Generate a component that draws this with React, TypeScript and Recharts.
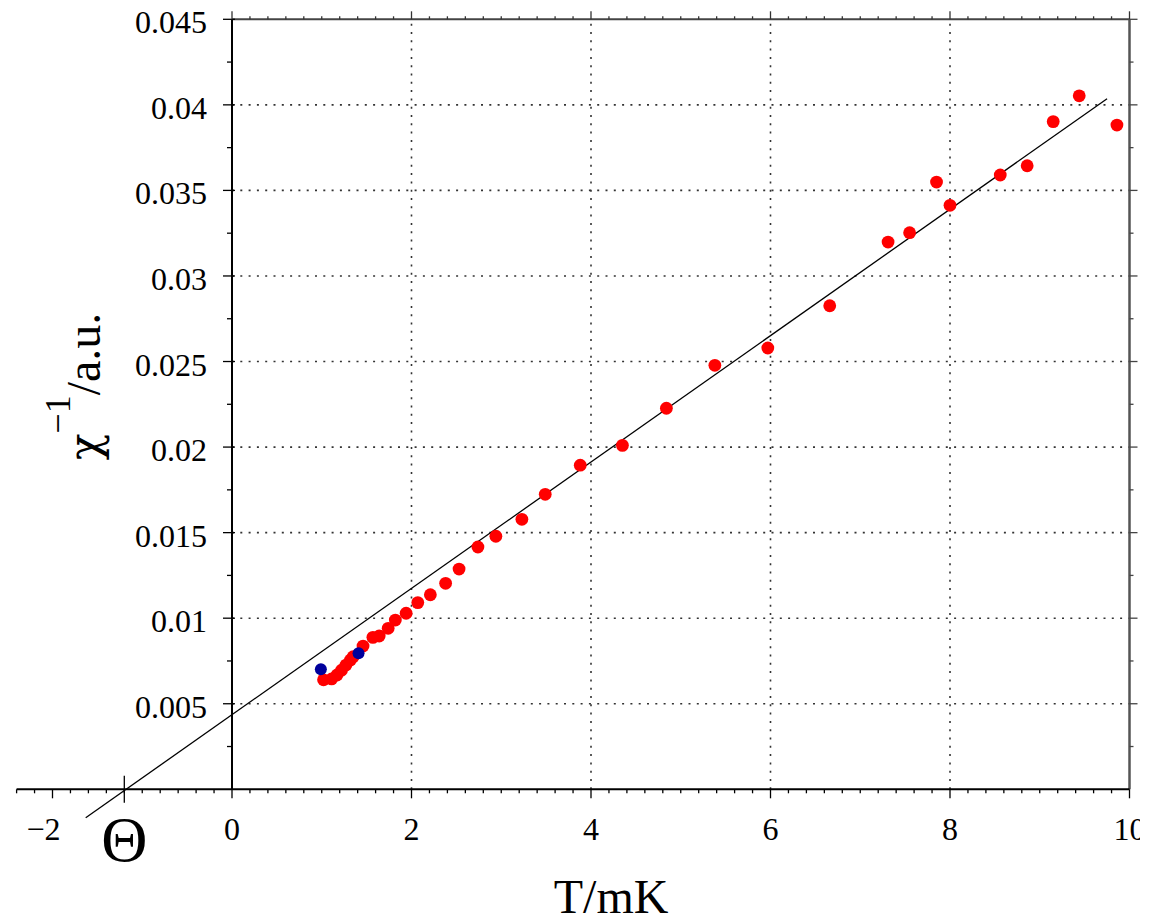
import React from "react";
import {
  ComposedChart,
  Scatter,
  XAxis,
  YAxis,
  ReferenceLine,
  ReferenceDot,
  Label,
} from "recharts";

// measured points: T in mK, inverse susceptibility in a.u.
const redT = [
  1.02, 1.11, 1.17, 1.22, 1.27, 1.32, 1.35, 1.46, 1.57, 1.64, 1.74, 1.82, 1.94,
  2.07, 2.21, 2.38, 2.53, 2.74, 2.94, 3.23, 3.49, 3.88, 4.35, 4.84, 5.38, 5.97,
  6.66, 7.31, 7.55, 7.85, 8.0, 8.56, 8.86, 9.15, 9.44, 9.86,
];
const redChi = [
  0.0064, 0.00645, 0.00668, 0.00696, 0.00726, 0.00756, 0.00775, 0.00837,
  0.00888, 0.00896, 0.00941, 0.00989, 0.01029, 0.01091, 0.01137, 0.01204,
  0.01287, 0.01416, 0.01479, 0.01578, 0.01724, 0.01894, 0.0201, 0.02227,
  0.02478, 0.02579, 0.02826, 0.03198, 0.03253, 0.03549, 0.03413, 0.0359,
  0.03644, 0.03902, 0.04053, 0.03882,
];
const blueT = [0.99, 1.41];
const blueChi = [0.00701, 0.00795];

// Curie-Weiss fit line end points and Θ
const fitT = [-1.63, 9.75];
const fitChi = [-0.00166, 0.04036];
const theta = -1.2;

const tMajor = [-2, 0, 2, 4, 6, 8, 10];
const tLabels = ["\u22122", "0", "2", "4", "6", "8", "10"];
const chiMajor = [0.005, 0.01, 0.015, 0.02, 0.025, 0.03, 0.035, 0.04, 0.045];
const chiLabels = ["0.005", "0.01", "0.015", "0.02", "0.025", "0.03", "0.035", "0.04", "0.045"];

const tMinor = Array.from({ length: 63 }, (_, i) => +(-2.4 + i * 0.2).toFixed(1));
const tTop = tMinor.filter((t) => t >= 0);
const chiMinor = Array.from({ length: 18 }, (_, i) => +((i + 1) * 0.0025).toFixed(4));

const redData = redT.map((t, i) => ({ t, chi: redChi[i] }));
const blueData = blueT.map((t, i) => ({ t, chi: blueChi[i] }));

const font = '"Liberation Serif", "Times New Roman", serif';
const grid = { stroke: "#333", strokeWidth: 1.6, strokeDasharray: "2 6.3" };

const isMajorT = (v: number) => Math.abs(v / 2 - Math.round(v / 2)) < 1e-6;
const isMajorChi = (v: number) => Math.abs(v / 0.005 - Math.round(v / 0.005)) < 1e-6;

function BottomTick(props: any) {
  const { x, y, payload } = props;
  const v = payload.value;
  const major = isMajorT(v);
  const idx = tMajor.findIndex((m) => Math.abs(m - v) < 1e-6);
  return (
    <g>
      <line x1={x} x2={x} y1={y} y2={y + (major ? 9 : 4)} stroke="#000" strokeWidth={1.3} />
      {major && (
        <text
          x={v < 0 ? x + 8 : x}
          y={y + 51}
          textAnchor={v < 0 ? "end" : "middle"}
          fontFamily={font}
          fontSize={32}
          fill="#000"
        >
          {tLabels[idx]}
        </text>
      )}
    </g>
  );
}

const dot = (color: string, r: number) => (p: any) =>
  <circle cx={p.cx} cy={p.cy} r={r} fill={color} />;

export default function App() {
  return (
    <ComposedChart
      width={1132}
      height={913}
      margin={{ top: 11.3, right: 10.5, left: 8.6, bottom: 7.7 }}
    >
      <XAxis
        type="number"
        dataKey="t"
        domain={[-2.4, 10]}
        ticks={tMinor}
        interval={0}
        tickSize={0}
        tickMargin={0}
        tickLine={false}
        tick={<BottomTick />}
        axisLine={{ stroke: "#000", strokeWidth: 2 }}
        height={124}
      >
        <Label
          value="T/mK"
          position="insideBottom"
          offset={0}
          dx={38}
          style={{ fontFamily: font, fontSize: 48, fill: "#000" }}
        />
      </XAxis>
      <YAxis type="number" dataKey="chi" domain={[0, 0.045]} hide />

      {[2, 4, 6, 8].map((t) => (
        <ReferenceLine key={"gv" + t} segment={[{ x: t, y: 0 }, { x: t, y: 0.045 }]} {...grid} />
      ))}
      {chiMajor.slice(0, -1).map((c) => (
        <ReferenceLine key={"gh" + c} segment={[{ x: 0, y: c }, { x: 10, y: c }]} {...grid} />
      ))}

      <ReferenceLine segment={[{ x: 0, y: 0.045 }, { x: 10, y: 0.045 }]} stroke="#444" strokeWidth={2} />
      <ReferenceLine segment={[{ x: 10, y: 0 }, { x: 10, y: 0.045 }]} stroke="#555" strokeWidth={2.5} />
      <ReferenceLine segment={[{ x: 0, y: 0 }, { x: 0, y: 0.045 }]} stroke="#000" strokeWidth={2} />

      {chiMinor.map((c) => (
        <ReferenceDot
          key={"yl" + c}
          x={0}
          y={c}
          shape={(p: any) => {
            const major = isMajorChi(c);
            const idx = chiMajor.findIndex((m) => Math.abs(m - c) < 1e-7);
            return (
              <g>
                <line x1={p.cx - (major ? 9 : 5)} x2={p.cx + (major ? 3 : 0)} y1={p.cy} y2={p.cy} stroke="#000" strokeWidth={1.3} />
                {major && (
                  <text x={p.cx - 25} y={p.cy + 14} textAnchor="end" fontFamily={font} fontSize={32} fill="#000">
                    {chiLabels[idx]}
                  </text>
                )}
              </g>
            );
          }}
        />
      ))}
      {chiMinor.map((c) => (
        <ReferenceDot
          key={"yr" + c}
          x={10}
          y={c}
          shape={(p: any) => (
            <line x1={p.cx} x2={p.cx + (isMajorChi(c) ? 8 : 4)} y1={p.cy} y2={p.cy} stroke="#444" strokeWidth={1.3} />
          )}
        />
      ))}
      {tTop.map((t) => (
        <ReferenceDot
          key={"xt" + t}
          x={t}
          y={0.045}
          shape={(p: any) => (
            <line x1={p.cx} x2={p.cx} y1={p.cy} y2={p.cy - (isMajorT(t) ? 8 : 3)} stroke="#333" strokeWidth={1.3} />
          )}
        />
      ))}

      <ReferenceLine
        segment={[{ x: fitT[0], y: fitChi[0] }, { x: fitT[1], y: fitChi[1] }]}
        stroke="#000"
        strokeWidth={1.3}
        ifOverflow="visible"
      />
      <ReferenceDot
        x={theta}
        y={0}
        shape={(p: any) => (
          <g>
            <line x1={p.cx} x2={p.cx} y1={p.cy - 13.5} y2={p.cy + 13.5} stroke="#000" strokeWidth={1.3} />
            <text x={p.cx} y={p.cy + 72} textAnchor="middle" fontFamily={font} fontSize={64} fill="#000">
              Θ
            </text>
          </g>
        )}
      />

      <Scatter data={redData} dataKey="chi" shape={dot("#ff0000", 6.4)} isAnimationActive={false} />
      <Scatter data={blueData} dataKey="chi" shape={dot("#00009c", 6)} isAnimationActive={false} />

      <text
        x={92}
        y={378.5}
        transform="rotate(-90, 92, 378.5)"
        textAnchor="middle"
        fontFamily={font}
        fontSize={48}
        fill="#000"
      >
        <tspan fontFamily='"DejaVu Serif", serif' fontSize={44}>χ</tspan>
        <tspan fontSize={36} dy={-30}>
          −1
        </tspan>
        <tspan dy={30}>/a.u.</tspan>
      </text>
    </ComposedChart>
  );
}
